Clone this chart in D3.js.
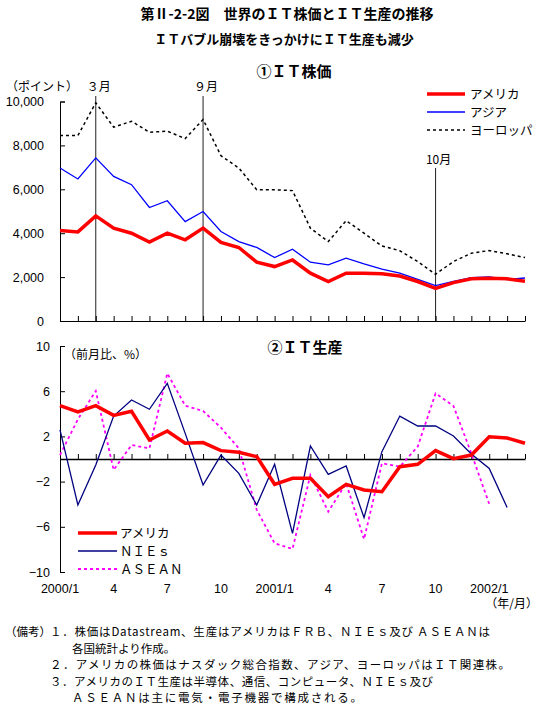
<!DOCTYPE html>
<html>
<head>
<meta charset="utf-8">
<script src="https://cdn.jsdelivr.net/npm/d3@7/dist/d3.min.js"></script>
<style>
  body { margin: 0; background: #fff; }
  svg { display: block; }
</style>
</head>
<body>
<div id="chart"></div>
<script>
// months Jan 2000 .. Mar 2002 (index 0..26)
var monthCount = 27;

// ① IT stock price (points)
var usStock   = [4120, 4060, 4790, 4230, 4000, 3600, 4000, 3700, 4230, 3580, 3350, 2680, 2480,
                 2780, 2180, 1800, 2180, 2180, 2150, 2050, 1800, 1490, 1750, 1920, 1950, 1920, 1810];
var asiaStock = [6970, 6470, 7430, 6590, 6210, 5170, 5480, 4530, 4990, 4080, 3620, 3350, 2890,
                 3270, 2680, 2560, 2860, 2600, 2360, 2180, 1900, 1610, 1800, 1980, 2010, 1890, 1960];
var euroStock = [8450, 8450, 9940, 8830, 9100, 8600, 8650, 8310, 9180, 7530, 6970, 5980, 5980,
                 5940, 4230, 3620, 4570, 4000, 3420, 3200, 2710, 2130, 2710, 3090, 3210, 3060, 2890];
var stockTicks = [0, 2000, 4000, 6000, 8000, 10000];
var stockLegend = ["アメリカ", "アジア", "ヨーロッパ"];
var stockMarks = [{i: 2, label: "３月"}, {i: 8, label: "９月"}, {i: 21, label: "10月"}];

// ② IT production (month on month, %)
var usProd    = [4.72, 4.16, 4.72, 3.86, 4.22, 1.68, 2.48, 1.39, 1.45, 0.74, 0.59, 0.21, -2.24,
                 -1.71, -1.71, -3.33, -2.24, -2.74, -2.89, -0.68, -0.47, 0.74, 0.03, 0.35, 1.97, 1.86, 1.39];
var niesProd  = [2.57, -4.07, -0.53, 3.8, 5.22, 4.4, 6.7, 2.27, -2.3, 0.35, -1.27, -4.07, -0.47,
                 -6.58, 1.15, -1.36, -0.62, -5.19, 0.65, 3.8, 2.92, 2.92, 2.04, 0.44, -0.83, -4.3];
var aseanProd = [0.35, 3.51, 6.02, -0.97, 1.24, 0.94, 7.58, 4.72, 4.25, 2.77, 0.94, -4.5, -7.46,
                 -7.96, -1.42, -4.66, -2.15, -7.1, -0.38, -0.68, 1.09, 5.81, 4.69, 0.5, -3.98];
var prodTicks = [-10, -6, -2, 2, 6, 10];
var prodLegend = ["アメリカ", "ＮＩＥｓ", "ＡＳＥＡＮ"];
var prodTickIdx = [0, 3, 6, 9, 12, 15, 18, 21, 24];
var prodTickLabels = ["2000/1", "4", "7", "10", "2001/1", "4", "7", "10", "2002/1"];

var noteHead = "（備考）";
var notes = [
  "１．株価はDatastream、生産はアメリカはＦＲＢ、ＮＩＥｓ及び ＡＳＥＡＮは",
  "各国統計より作成。",
  "２．アメリカの株価はナスダック総合指数、アジア、ヨーロッパはＩＴ関連株。",
  "３．アメリカのＩＴ生産は半導体、通信、コンピュータ、ＮＩＥｓ及び",
  "ＡＳＥＡＮは主に電気・電子機器で構成される。"
];

var JP = "'Noto Sans CJK JP', 'Noto Sans', sans-serif";
var NUM = "'Liberation Sans', Arial, sans-serif";

var width = 543, height = 710;
var svg = d3.select("#chart").append("svg")
  .attr("width", width)
  .attr("height", height);

svg.append("rect").attr("width", width).attr("height", height).attr("fill", "#fff");

// titles
svg.append("text").attr("x", 287).attr("y", 19).attr("text-anchor", "middle")
  .style("font-family", JP).style("font-size", "14px").style("font-weight", "bold")
  .text("第Ⅱ-2-2図　世界のＩＴ株価とＩＴ生産の推移");
svg.append("text").attr("x", 284).attr("y", 44).attr("text-anchor", "middle")
  .style("font-family", JP).style("font-size", "13px").style("font-weight", "bold")
  .text("ＩＴバブル崩壊をきっかけにＩＴ生産も減少");
svg.append("text").attr("x", 294).attr("y", 77).attr("text-anchor", "middle")
  .style("font-family", JP).style("font-size", "15px").style("font-weight", "bold")
  .text("①ＩＴ株価");
svg.append("text").attr("x", 305).attr("y", 353).attr("text-anchor", "middle")
  .style("font-family", JP).style("font-size", "15px").style("font-weight", "bold")
  .text("②ＩＴ生産");

var x = d3.scaleLinear().domain([0, monthCount - 1]).range([60, 525]);

/** ① stock chart **/
var y1 = d3.scaleLinear().domain([0, 10000]).range([321, 101.5]);
var topG = svg.append("g");

// marker lines
topG.selectAll("line.mark")
  .data(stockMarks)
  .enter()
  .append("line")
  .attr("x1", function(d){ return x(d.i); })
  .attr("x2", function(d){ return x(d.i); })
  .attr("y1", y1(0))
  .attr("y2", function(d){ return d.i == 21 ? 168 : 96; })
  .attr("stroke", "#222")
  .attr("stroke-width", 1);
topG.selectAll("text.mark")
  .data(stockMarks)
  .enter()
  .append("text")
  .attr("x", function(d){ return x(d.i) + 3; })
  .attr("y", function(d){ return d.i == 21 ? 164 : 91; })
  .attr("text-anchor", "middle")
  .style("font-family", JP).style("font-size", "12px")
  .text(function(d){ return d.label; });

var y1Axis = d3.axisLeft(y1).tickValues(stockTicks).tickSize(-5).tickPadding(16)
  .tickFormat(d3.format(","));
topG.append("g").attr("transform", "translate(60,0)").call(y1Axis)
  .call(function(g){
    g.selectAll("text").style("font-family", NUM).style("font-size", "12.5px").attr("fill", "#000");
    g.select(".domain").attr("stroke", "#000");
  });

var x1Axis = d3.axisBottom(x).tickValues(d3.range(monthCount))
  .tickSizeInner(-5).tickSizeOuter(0).tickFormat("");
topG.append("g").attr("transform", "translate(0," + y1(0) + ")").call(x1Axis)
  .select(".domain").attr("stroke", "#000");

topG.append("text").attr("x", 6).attr("y", 91)
  .style("font-family", JP).style("font-size", "12px")
  .text("（ポイント）");

var line1 = d3.line()
  .x(function(d, i){ return x(i); })
  .y(function(d){ return y1(d); });

topG.append("path").datum(euroStock).attr("d", line1)
  .attr("fill", "none").attr("stroke", "#000").attr("stroke-width", 1.5)
  .attr("stroke-dasharray", "3,3");
topG.append("path").datum(asiaStock).attr("d", line1)
  .attr("fill", "none").attr("stroke", "#0000ff").attr("stroke-width", 1.3);
topG.append("path").datum(usStock).attr("d", line1)
  .attr("fill", "none").attr("stroke", "#ff0000").attr("stroke-width", 3.5);

var legend1Style = [
  {color: "#ff0000", w: 3.5, dash: null},
  {color: "#0000ff", w: 1.3, dash: null},
  {color: "#000", w: 1.5, dash: "3,3"}
];
var leg1 = topG.selectAll("g.leg")
  .data(stockLegend)
  .enter()
  .append("g")
  .attr("transform", function(d, i){ return "translate(427," + (94 + i * 18) + ")"; });
leg1.append("line").attr("x1", 0).attr("x2", 38).attr("y1", 0).attr("y2", 0)
  .attr("stroke", function(d, i){ return legend1Style[i].color; })
  .attr("stroke-width", function(d, i){ return legend1Style[i].w; })
  .attr("stroke-dasharray", function(d, i){ return legend1Style[i].dash; });
leg1.append("text").attr("x", 43).attr("y", 5)
  .style("font-family", JP).style("font-size", "12.5px")
  .text(function(d){ return d; });

/** ② production chart **/
var y2 = d3.scaleLinear().domain([-10, 10]).range([572, 346]);
var botG = svg.append("g");

var y2Axis = d3.axisLeft(y2).tickValues(prodTicks).tickSize(-5).tickPadding(10)
  .tickFormat(function(d){ return d < 0 ? "−" + Math.abs(d) : d; });
botG.append("g").attr("transform", "translate(60,0)").call(y2Axis)
  .call(function(g){
    g.selectAll("text").style("font-family", NUM).style("font-size", "12.5px").attr("fill", "#000");
    g.select(".domain").attr("stroke", "#000");
  });

var x2Axis = d3.axisBottom(x).tickValues(d3.range(monthCount))
  .tickSizeInner(-5).tickSizeOuter(0).tickFormat("");
botG.append("g").attr("transform", "translate(0," + y2(0) + ")").call(x2Axis)
  .select(".domain").attr("stroke", "#000").attr("stroke-width", 1.3);

botG.selectAll("text.xlab")
  .data(prodTickLabels)
  .enter()
  .append("text")
  .attr("x", function(d, i){ return x(prodTickIdx[i]); })
  .attr("y", 593)
  .attr("text-anchor", "middle")
  .style("font-family", NUM).style("font-size", "12.5px")
  .text(function(d){ return d; });

botG.append("text").attr("x", 64).attr("y", 359)
  .style("font-family", JP).style("font-size", "12px")
  .text("（前月比、%）");
botG.append("text").attr("x", 538).attr("y", 608).attr("text-anchor", "end")
  .style("font-family", JP).style("font-size", "12px")
  .text("（年/月）");

var line2 = d3.line()
  .x(function(d, i){ return x(i); })
  .y(function(d){ return y2(d); });

botG.append("path").datum(aseanProd).attr("d", line2)
  .attr("fill", "none").attr("stroke", "#ff00ff").attr("stroke-width", 1.8)
  .attr("stroke-dasharray", "3,3");
botG.append("path").datum(niesProd).attr("d", line2)
  .attr("fill", "none").attr("stroke", "#000080").attr("stroke-width", 1.3);
botG.append("path").datum(usProd).attr("d", line2)
  .attr("fill", "none").attr("stroke", "#ff0000").attr("stroke-width", 3.5);

var legend2Style = [
  {color: "#ff0000", w: 3.5, dash: null},
  {color: "#000080", w: 1.3, dash: null},
  {color: "#ff00ff", w: 1.8, dash: "3,3"}
];
var leg2 = botG.selectAll("g.leg")
  .data(prodLegend)
  .enter()
  .append("g")
  .attr("transform", function(d, i){ return "translate(78," + (533 + i * 18) + ")"; });
leg2.append("line").attr("x1", 0).attr("x2", 39).attr("y1", 0).attr("y2", 0)
  .attr("stroke", function(d, i){ return legend2Style[i].color; })
  .attr("stroke-width", function(d, i){ return legend2Style[i].w; })
  .attr("stroke-dasharray", function(d, i){ return legend2Style[i].dash; });
leg2.append("text").attr("x", 42).attr("y", 5)
  .style("font-family", JP).style("font-size", "12.5px")
  .text(function(d){ return d; });

/** notes **/
var noteX = [50, 72, 50, 50, 72];
var noteY = [636, 652.5, 669, 685.5, 702];
var noteW = [440, 0, 460, 383, 290];
svg.append("text").attr("x", 5).attr("y", noteY[0])
  .style("font-family", JP).style("font-size", "11.5px")
  .text(noteHead);
svg.selectAll("text.note")
  .data(notes)
  .enter()
  .append("text")
  .attr("class", "note")
  .attr("x", function(d, i){ return noteX[i]; })
  .attr("y", function(d, i){ return noteY[i]; })
  .attr("textLength", function(d, i){ return noteW[i] || null; })
  .attr("lengthAdjust", "spacing")
  .style("font-family", JP).style("font-size", "11.5px")
  .text(function(d){ return d; });
</script>
</body>
</html>
